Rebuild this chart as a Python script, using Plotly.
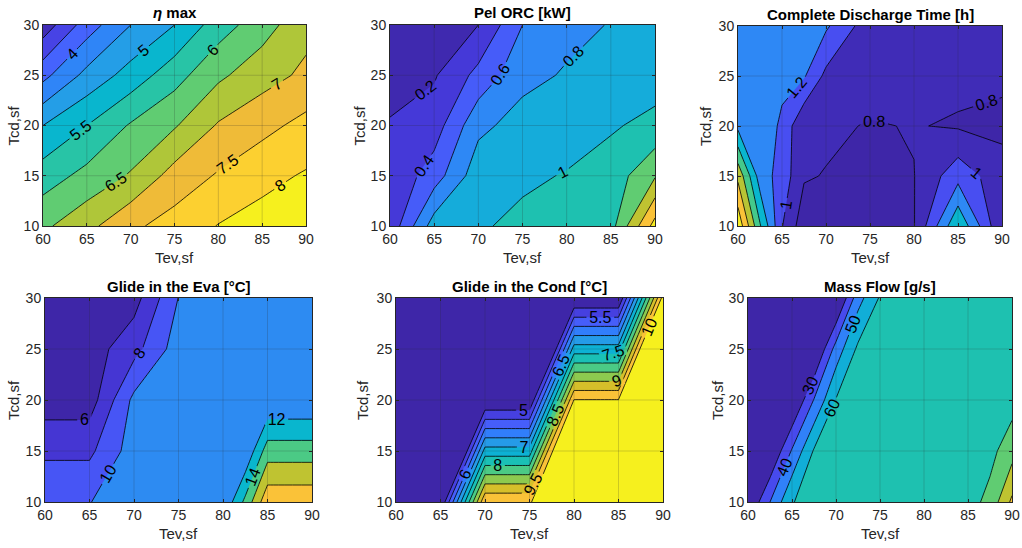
import plotly.graph_objects as go

# ---------------- data ----------------
TEV = [60, 65, 70, 75, 80, 85, 90]
TEV_P3 = [60, 62.5, 65, 67.5, 70, 75, 80, 85, 90]
TEV_P4 = [60, 65, 70, 75, 80, 82.5, 85, 90]
TEV_P6 = [60, 62.5, 65, 67.5, 70, 72.5, 75, 77.5, 80, 82.5, 85, 87.5, 90]
TCD = [10, 15, 20, 25, 30]
TCD_P5 = [10, 20, 30]

X_TICKS = [60, 65, 70, 75, 80, 85, 90]
Y_TICKS = [10, 15, 20, 25, 30]

# rows follow Tcd, columns follow Tev
ETA_MAX = [
    [6.4, 6.85, 7.4, 7.7, 8.02, 8.2, 8.35],
    [5.75, 6.15, 6.55, 7.2, 7.55, 7.85, 8.05],
    [5.0, 5.5, 6.05, 6.45, 7.05, 7.35, 7.65],
    [3.85, 4.65, 5.2, 5.8, 6.4, 6.8, 7.1],
    [2.7, 3.75, 4.5, 5.0, 5.76, 6.28, 6.85],
]
PEL_ORC = [
    [0.26, 0.9, 0.98, 1.04, 1.08, 1.12, 1.88],
    [0.24, 0.5, 0.92, 0.97, 1.01, 1.08, 1.38],
    [0.22, 0.3, 0.75, 0.88, 0.92, 0.98, 1.05],
    [0.1, 0.18, 0.46, 0.74, 0.82, 0.87, 0.92],
    [0.08, 0.12, 0.2, 0.6, 0.74, 0.81, 0.86],
]
DISCHARGE = [
    [2.35, 1.62, 1.01, 0.68, 0.7, 0.7, 0.79, 1.58, 0.81],
    [1.95, 1.3, 1.12, 0.82, 0.79, 0.72, 0.795, 1.13, 0.87],
    [1.35, 1.38, 1.15, 0.82, 0.84, 0.785, 0.81, 0.78, 0.76],
    [1.32, 1.3, 1.27, 1.22, 0.95, 0.9, 0.88, 0.85, 0.83],
    [1.3, 1.29, 1.27, 1.25, 1.23, 0.88, 0.87, 0.86, 0.85],
]
GLIDE_EVA = [
    [9.95, 9.95, 11, 11, 10.2, 14.5, 19.5, 19.5],
    [7.56, 7.56, 11, 11, 10.5, 10.19, 15, 15],
    [5.0, 5.0, 10.5, 11, 10.5, 10.3, 10.2, 10.2],
    [5.0, 5.0, 7.3, 11, 10.5, 10.8, 11, 11],
    [5.0, 5.0, 5.2, 10.05, 10.5, 10.8, 11, 11],
]
GLIDE_COND = [
    [4.45, 4.45, 9.98, 9.98, 10.4, 10.4, 10.4],
    [4.45, 4.45, 4.45, 4.45, 10.02, 10.02, 10.4],
    [4.45, 4.45, 4.45, 4.45, 4.45, 4.45, 10.2],
]
MASS_FLOW = [
    [20, 40, 59.5, 64, 65, 65, 65, 65.5, 66, 66, 66, 73, 92],
    [18, 19, 41, 61, 65, 65, 65, 65, 65, 65, 65.5, 67, 76],
    [16, 17, 18, 40.5, 60.5, 64, 65, 65, 65, 65, 65, 65, 66],
    [15, 15.5, 16, 17, 44, 62, 64.5, 65, 65, 65, 65, 65, 65],
    [14, 14.5, 15, 15.5, 16, 46, 61, 64, 65, 65, 65, 65, 65],
]

TITLES = ["<b><i>η</i> max</b>", "<b>Pel ORC [kW]</b>", "<b>Complete Discharge Time [h]</b>",
          "<b>Glide in the Eva [°C]</b>", "<b>Glide in the Cond [°C]</b>", "<b>Mass Flow [g/s]</b>"]
X_LABEL = "Tev,sf"
Y_LABEL = "Tcd,sf"

# contour levels (start, end, step)
LEVELS = [(3.0, 8.0, 0.5), (0.2, 1.8, 0.2), (0.8, 2.2, 0.2),
          (6, 18, 2), (5.0, 10.0, 0.5), (30, 90, 10)]

# ---------------- style ----------------
PARULA_KEYS = [
    (0.2422, 0.1504, 0.6603), (0.2706, 0.2147, 0.8364), (0.2813, 0.3006, 0.9414),
    (0.2699, 0.3892, 0.9906), (0.1963, 0.4847, 0.9892), (0.1687, 0.5703, 0.9359),
    (0.1248, 0.6459, 0.8883), (0.0297, 0.7082, 0.8163), (0.0964, 0.7500, 0.7120),
    (0.2161, 0.7843, 0.5923), (0.3909, 0.8029, 0.4354), (0.6174, 0.7876, 0.2612),
    (0.8203, 0.7498, 0.1535), (0.9728, 0.7298, 0.2394), (0.9892, 0.8136, 0.1885),
    (0.9597, 0.9135, 0.1423), (0.9769, 0.9839, 0.0805),
]
PARULA_POS = [i * 4 / 63 for i in range(16)] + [1.0]


def parula(t):
    t = min(max(t, 0.0), 1.0)
    for i in range(len(PARULA_POS) - 1):
        t0, t1 = PARULA_POS[i], PARULA_POS[i + 1]
        if t <= t1:
            f = (t - t0) / (t1 - t0)
            c0, c1 = PARULA_KEYS[i], PARULA_KEYS[i + 1]
            return "rgb(%d,%d,%d)" % tuple(round(255 * (a + (b - a) * f)) for a, b in zip(c0, c1))
    c = PARULA_KEYS[-1]
    return "rgb(%d,%d,%d)" % tuple(round(255 * a) for a in c)


# colormap position of each filled band (lowest band first)
BAND_POS = [
    [0.02, 0.10, 0.19, 0.28, 0.36, 0.45, 0.54, 0.63, 0.72, 0.81, 0.89, 0.97],
    [0.01, 0.07, 0.17, 0.29, 0.41, 0.52, 0.63, 0.74, 0.85, 0.96],
    [0.0, 0.02, 0.13, 0.29, 0.45, 0.59, 0.73, 0.85, 0.96],
    [0.0, 0.06, 0.15, 0.30, 0.45, 0.60, 0.74, 0.85],
    [0.0, 0.09, 0.175, 0.26, 0.35, 0.43, 0.51, 0.60, 0.68, 0.77, 0.85, 0.97],
    [0.0, 0.12, 0.27, 0.42, 0.52, 0.63, 0.74, 0.86],
]

W, H = 1022, 548
BOXES = [(43, 306, 25, 226), (390, 655, 25, 226), (738, 1002, 26, 226),
         (45, 312, 298, 502), (396, 663, 298, 502), (748, 1012, 298, 502)]
YTITLE_X = [13, 359, 705, 13, 362, 717]

FONT = "Liberation Sans, Arial, Helvetica, sans-serif"
AXC = "#262626"

panels = [
    (TEV, TCD, ETA_MAX), (TEV, TCD, PEL_ORC), (TEV_P3, TCD, DISCHARGE),
    (TEV_P4, TCD, GLIDE_EVA), (TEV, TCD_P5, GLIDE_COND), (TEV_P6, TCD, MASS_FLOW),
]

fig = go.Figure()
annotations = []
shapes = []
layout = {}

for i, ((xs, ys, zs), (start, end, step), pos, box) in enumerate(zip(panels, LEVELS, BAND_POS, BOXES)):
    n = i + 1
    xa = "x" if n == 1 else "x%d" % n
    ya = "y" if n == 1 else "y%d" % n
    nlev = int(round((end - start) / step)) + 1
    cols = [parula(p) for p in pos]
    cscale = [[k / nlev, cols[k]] for k in range(nlev + 1)]
    fig.add_trace(go.Contour(
        x=xs, y=ys, z=zs, xaxis=xa, yaxis=ya,
        autocontour=False,
        contours=dict(start=start, end=end, size=step, coloring="fill", showlabels=True,
                      labelfont=dict(size=16, color="black", family=FONT)),
        colorscale=cscale, showscale=False,
        line=dict(color="black", width=0.8, smoothing=0),
        hoverinfo="skip",
    ))
    l, r, t, b = box
    common = dict(showline=True, linecolor=AXC, linewidth=1, mirror="ticks", ticks="inside",
                  ticklen=3, tickcolor=AXC, showgrid=False, zeroline=False, automargin=False,
                  tickfont=dict(size=14, color=AXC, family=FONT))
    layout["xaxis" if n == 1 else "xaxis%d" % n] = dict(
        domain=[l / W, r / W], range=[60, 90], tickvals=X_TICKS, anchor=ya, **common)
    layout["yaxis" if n == 1 else "yaxis%d" % n] = dict(
        domain=[1 - b / H, 1 - t / H], range=[10, 30], tickvals=Y_TICKS, anchor=xa, **common)
    # grid drawn over the fills, like MATLAB
    for xv in X_TICKS[1:-1]:
        shapes.append(dict(type="line", xref=xa, yref=ya + " domain", x0=xv, x1=xv, y0=0, y1=1,
                           line=dict(color="rgba(38,38,38,0.2)", width=1), layer="above"))
    for yv in Y_TICKS[1:-1]:
        shapes.append(dict(type="line", xref=xa + " domain", yref=ya, x0=0, x1=1, y0=yv, y1=yv,
                           line=dict(color="rgba(38,38,38,0.2)", width=1), layer="above"))
    cx = (l + r) / 2 / W
    annotations.append(dict(text=TITLES[i], x=cx, y=1 - (t - 12) / H, xref="paper", yref="paper",
                            xanchor="center", yanchor="middle", showarrow=False,
                            font=dict(size=15, color="black", family=FONT)))
    annotations.append(dict(text=X_LABEL, x=cx, y=1 - (b + 31) / H, xref="paper", yref="paper",
                            xanchor="center", yanchor="middle", showarrow=False,
                            font=dict(size=15, color=AXC, family=FONT)))
    annotations.append(dict(text=Y_LABEL, x=YTITLE_X[i] / W, y=1 - (t + b) / 2 / H, xref="paper",
                            yref="paper", xanchor="center", yanchor="middle", showarrow=False,
                            textangle=-90, font=dict(size=15, color=AXC, family=FONT)))

fig.update_layout(width=W, height=H, margin=dict(l=0, r=0, t=0, b=0, autoexpand=False),
                  paper_bgcolor="white", plot_bgcolor="white", showlegend=False,
                  annotations=annotations, shapes=shapes, font=dict(family=FONT), **layout)
fig.write_html("out.html", config={"displayModeBar": False},
               post_script="document.body.style.margin='0px';")
